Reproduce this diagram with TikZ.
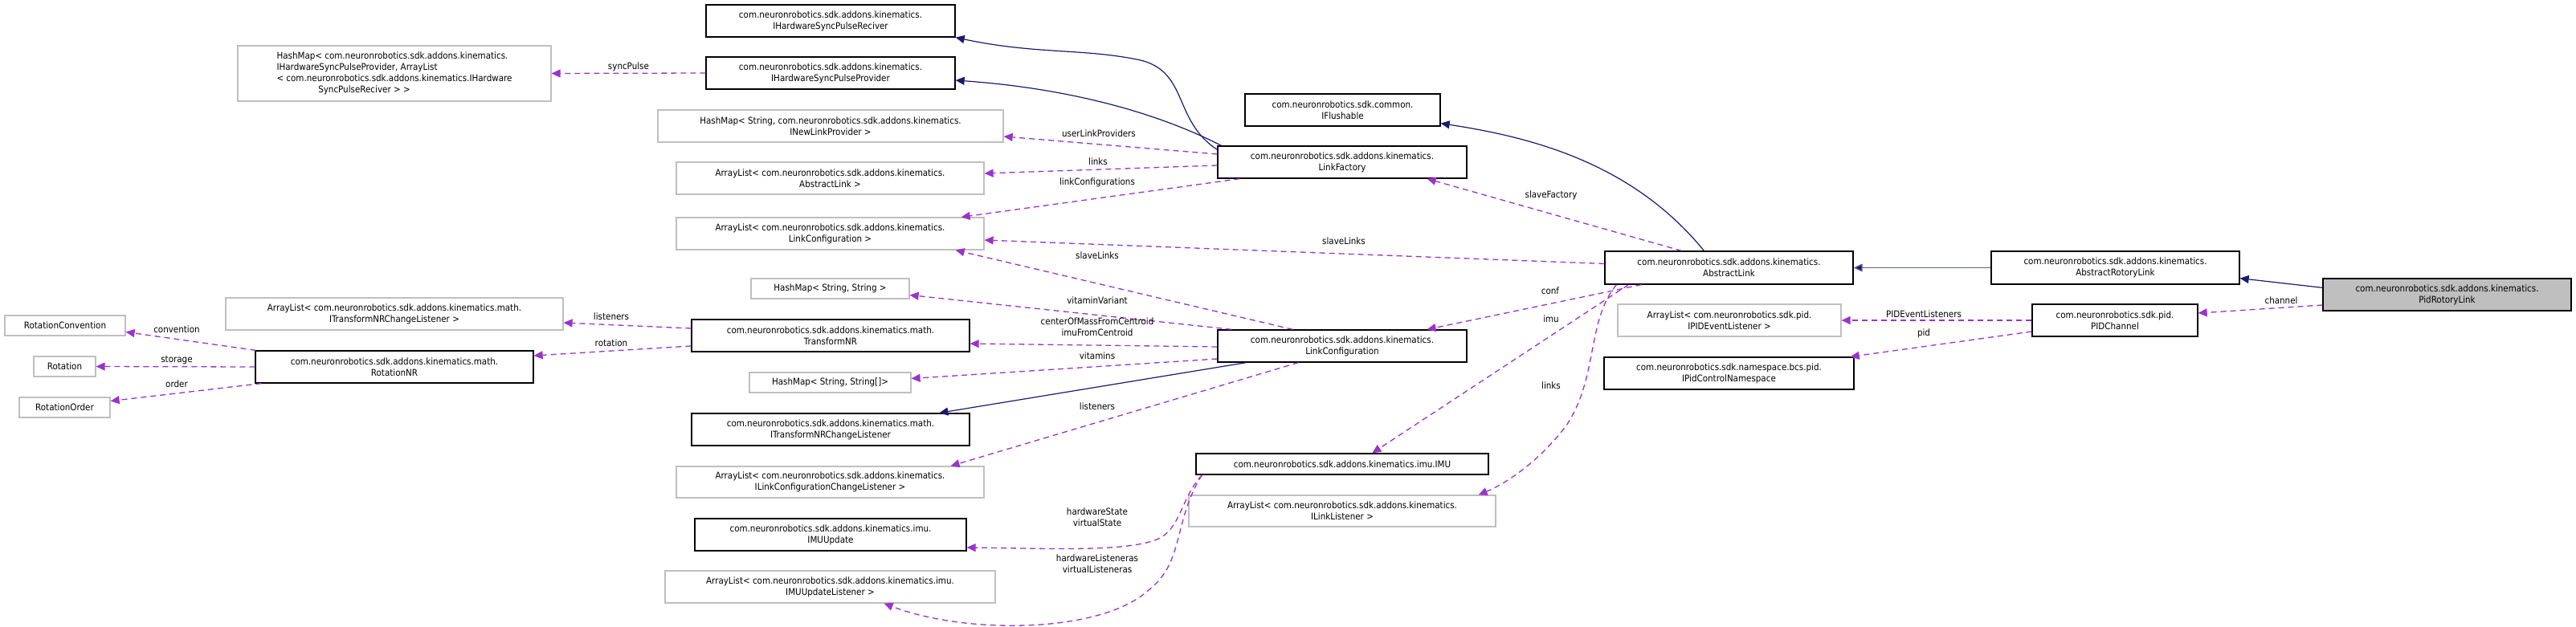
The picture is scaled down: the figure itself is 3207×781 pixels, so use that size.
\documentclass[tikz,border=0pt]{standalone}
\usepackage{fontspec}
\setmainfont{DejaVu Sans Condensed}
\usetikzlibrary{arrows.meta,calc}
\definecolor{dep}{HTML}{9A32CD}
\definecolor{inh}{HTML}{191970}
\newcommand\bx[7]{\node[#6, minimum width={(#4)-(#2)}, minimum height={(#5)-(#3)}] (#1) at ({((#2)+(#4))/2},{((#3)+(#5))/2}) {#7};}
\begin{document}
\begin{tikzpicture}[x=1pt,y=-1pt,
  every node/.style={font=\fontsize{11.5}{14}\selectfont, inner sep=0pt},
  cls/.style={draw=black, line width=1.3pt, fill=white, align=center},
  ext/.style={draw=black!25, line width=1.2pt, fill=white, align=center},
  main/.style={draw=black, line width=1.3pt, fill=black!25, align=center},
  dep/.style={draw=dep, dash pattern=on 7pt off 5pt, line width=1.3pt, -{Triangle[length=11pt,width=10pt,fill=dep]}},
  inh/.style={draw=inh, line width=1.2pt, -{Triangle[length=11pt,width=10pt,fill=inh]}},
  lbl/.style={align=center, fill=none}]
\useasboundingbox (0,0) rectangle (3207,781);
\bx{rec}{879}{6}{1189}{46}{cls}{com.neuronrobotics.sdk.addons.kinematics.\\IHardwareSyncPulseReciver}
\bx{prov}{879}{71}{1189}{111}{cls}{com.neuronrobotics.sdk.addons.kinematics.\\IHardwareSyncPulseProvider}
\bx{spm}{296}{57}{686}{126}{ext,align=left}{HashMap< com.neuronrobotics.sdk.addons.kinematics.\\IHardwareSyncPulseProvider, ArrayList\\< com.neuronrobotics.sdk.addons.kinematics.IHardware\\\hspace*{4.5em}SyncPulseReciver > >}
\bx{nlp}{819}{137}{1249}{177}{ext}{HashMap< String, com.neuronrobotics.sdk.addons.kinematics.\\INewLinkProvider >}
\bx{ala}{842}{202}{1225}{242}{ext}{ArrayList< com.neuronrobotics.sdk.addons.kinematics.\\AbstractLink >}
\bx{alc}{842}{271}{1225}{311}{ext}{ArrayList< com.neuronrobotics.sdk.addons.kinematics.\\LinkConfiguration >}
\bx{hss}{935}{347}{1132}{372}{ext}{HashMap< String, String >}
\bx{altl}{281}{371}{701}{411}{ext}{ArrayList< com.neuronrobotics.sdk.addons.kinematics.math.\\ITransformNRChangeListener >}
\bx{rc}{6}{393}{156}{418}{ext}{RotationConvention}
\bx{tnr}{861}{398}{1207}{438}{cls}{com.neuronrobotics.sdk.addons.kinematics.math.\\TransformNR}
\bx{rnr}{318}{437}{664}{477}{cls}{com.neuronrobotics.sdk.addons.kinematics.math.\\RotationNR}
\bx{rot}{42}{444}{119}{469}{ext}{Rotation}
\bx{ro}{24}{495}{137}{520}{ext}{RotationOrder}
\bx{hsa}{933}{464}{1134}{489}{ext}{HashMap< String, String[]>}
\bx{itl}{861}{515}{1207}{555}{cls}{com.neuronrobotics.sdk.addons.kinematics.math.\\ITransformNRChangeListener}
\bx{alcl}{842}{581}{1225}{620}{ext}{ArrayList< com.neuronrobotics.sdk.addons.kinematics.\\ILinkConfigurationChangeListener >}
\bx{imuu}{865}{646}{1203}{686}{cls}{com.neuronrobotics.sdk.addons.kinematics.imu.\\IMUUpdate}
\bx{aliu}{828}{711}{1239}{751}{ext}{ArrayList< com.neuronrobotics.sdk.addons.kinematics.imu.\\IMUUpdateListener >}
\bx{ifl}{1550}{117}{1793}{157}{cls}{com.neuronrobotics.sdk.common.\\IFlushable}
\bx{lf}{1516}{182}{1826}{222}{cls}{com.neuronrobotics.sdk.addons.kinematics.\\LinkFactory}
\bx{al}{1998}{313}{2307}{354}{cls}{com.neuronrobotics.sdk.addons.kinematics.\\AbstractLink}
\bx{lc}{1516}{411}{1826}{451}{cls}{com.neuronrobotics.sdk.addons.kinematics.\\LinkConfiguration}
\bx{imu}{1489}{565}{1853}{591}{cls}{com.neuronrobotics.sdk.addons.kinematics.imu.IMU}
\bx{alll}{1480}{617}{1862}{656}{ext}{ArrayList< com.neuronrobotics.sdk.addons.kinematics.\\ILinkListener >}
\bx{arl}{2479}{313}{2788}{354}{cls}{com.neuronrobotics.sdk.addons.kinematics.\\AbstractRotoryLink}
\bx{prl}{2892}{347}{3201}{387}{main}{com.neuronrobotics.sdk.addons.kinematics.\\PidRotoryLink}
\bx{alpe}{2014}{379}{2292}{419}{ext}{ArrayList< com.neuronrobotics.sdk.pid.\\IPIDEventListener >}
\bx{pch}{2530}{379}{2736}{419}{cls}{com.neuronrobotics.sdk.pid.\\PIDChannel}
\bx{ipcn}{1997}{445}{2308}{485}{cls}{com.neuronrobotics.sdk.namespace.bcs.pid.\\IPidControlNamespace}
% inheritance
\draw[inh] ($(lf.north west)+(0,5)$) .. controls (1460,150) and (1480,90) .. (1420,75) .. controls (1350,60) and (1290,68) .. (rec.south east);
\draw[inh] ($(lf.north west)+(5,0)$) .. controls (1440,140) and (1330,110) .. ($(prov.east)+(0,9)$);
\draw[inh] ($(al.north west)+(124,0)$) .. controls (2030,200) and (1900,170) .. ($(ifl.south east)+(0,-4)$);
\draw[inh, draw=inh!70] (arl.west) -- (al.east);
\draw[inh] ($(prl.north west)+(0,12)$) -- ($(arl.south east)+(0,-8)$);
\draw[inh] ($(lc.south west)+(36,0)$) -- ($(itl.north west)+(309,0)$);
% dependencies
\draw[dep] (prov.west) -- (spm.east) node[lbl, pos=0.5, above=2pt] (l1) {syncPulse};
\draw[dep] ($(lf.west)+(0,-10)$) -- ($(nlp.east)+(0,13)$);
\node[lbl] (l2) at (1368,166) {userLinkProviders};
\draw[dep] ($(lf.west)+(0,4)$) -- ($(ala.east)+(0,-6)$);
\node[lbl] (l3) at (1367,201) {links};
\draw[dep] ($(lf.south west)+(28,0)$) -- ($(alc.north east)+(-29,0)$);
\node[lbl] (l4) at (1366,227) {linkConfigurations};
\draw[dep] ($(al.north west)+(96,0)$) -- ($(lf.south east)+(-50,0)$);
\node[lbl] (l5) at (1931,243) {slaveFactory};
\draw[dep] ($(al.west)+(0,-5)$) -- ($(alc.east)+(0,8)$);
\node[lbl] (l6) at (1673,300) {slaveLinks};
\draw[dep] ($(lc.north west)+(94,0)$) -- ($(alc.south east)+(-36,0)$);
\node[lbl] (l7) at (1366,318) {slaveLinks};
\draw[dep] ($(lc.north west)+(18,0)$) -- ($(hss.east)+(0,8)$);
\node[lbl] (l8) at (1366,374) {vitaminVariant};
\draw[dep] ($(lc.west)+(0,1)$) -- ($(tnr.east)+(0,10)$);
\node[lbl] (l9) at (1366,407) {centerOfMassFromCentroid\\imuFromCentroid};
\draw[dep] ($(lc.west)+(0,16)$) -- ($(hsa.east)+(0,-5)$);
\node[lbl] (l10) at (1366,443) {vitamins};
\draw[dep] ($(lc.south west)+(101,0)$) -- ($(alcl.north east)+(-42,0)$);
\node[lbl] (l11) at (1366,506) {listeners};
\draw[dep] ($(al.south west)+(46,0)$) -- ($(lc.north east)+(-50,0)$);
\node[lbl] (l12) at (1930,362) {conf};
\draw[dep] ($(al.south west)+(30,0)$) -- ($(imu.north west)+(220,0)$);
\node[lbl] (l13) at (1931,397) {imu};
\draw[dep] ($(al.south west)+(15,0)$) .. controls (1975,400) and (1990,470) .. (1950,530) .. controls (1920,570) and (1880,600) .. ($(alll.north east)+(-22,0)$);
\node[lbl] (l14) at (1931,480) {links};
\draw[dep] ($(imu.south west)+(8,0)$) .. controls (1470,620) and (1470,660) .. (1440,672) .. controls (1400,688) and (1300,683) .. ($(imuu.east)+(0,16)$);
\node[lbl] (l15) at (1366,644) {hardwareState\\virtualState};
\draw[dep] ($(imu.south west)+(8,0)$) .. controls (1460,650) and (1475,700) .. (1430,735) .. controls (1370,790) and (1200,790) .. ($(aliu.south east)+(-139,0)$);
\node[lbl] (l16) at (1366,702) {hardwareListeneras\\virtualListeneras};
\draw[dep] ($(tnr.west)+(0,-9)$) -- ($(altl.east)+(0,11)$);
\node[lbl] (l17) at (761,394) {listeners};
\draw[dep] ($(tnr.west)+(0,13)$) -- ($(rnr.east)+(0,-14)$);
\node[lbl] (l18) at (761,427) {rotation};
\draw[dep] ($(rnr.north west)+(1,0)$) -- ($(rc.east)+(0,8)$);
\node[lbl] (l19) at (220,410) {convention};
\draw[dep] (rnr.west) -- (rot.east);
\node[lbl] (l20) at (220,449) {storage};
\draw[dep] ($(rnr.south west)+(8,0)$) -- ($(ro.east)+(0,-8)$);
\node[lbl] (l21) at (220,478) {order};
\draw[dep] (pch.west) -- (alpe.east);
\node[lbl] (l22) at (2395,391) {PIDEventListeners};
\draw[dep] ($(pch.west)+(0,14)$) -- ($(ipcn.north east)+(-5,0)$);
\node[lbl] (l23) at (2395,415) {pid};
\draw[dep] ($(prl.west)+(0,13)$) -- ($(pch.east)+(0,-9)$);
\node[lbl] (l24) at (2840,374) {channel};
\end{tikzpicture}
\end{document}
